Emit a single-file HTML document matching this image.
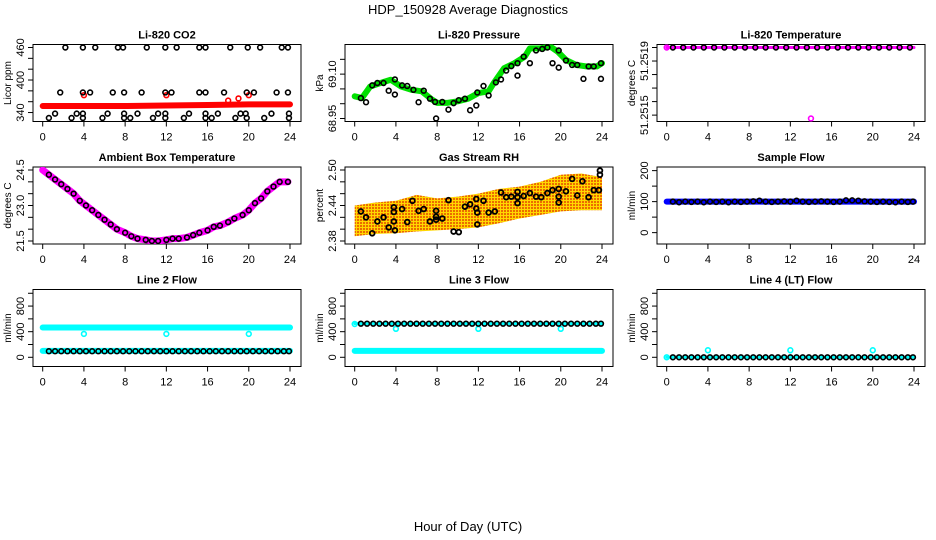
<!DOCTYPE html>
<html><head><meta charset="utf-8"><style>
html,body{margin:0;padding:0;background:#fff;}
svg{display:block;font-family:"Liberation Sans",Arial,sans-serif;}
</style></head><body>
<svg id="chart" width="936" height="540" viewBox="0 0 936 540" xmlns="http://www.w3.org/2000/svg">
<defs>
<pattern id="rhpat" width="3" height="3" patternUnits="userSpaceOnUse">
<rect width="3" height="3" fill="#ffd700"/><rect width="2" height="2" fill="#f08000"/><rect x="0.5" y="0.5" width="1" height="1" fill="#e03000"/>
</pattern>
</defs>
<text x="468" y="14" text-anchor="middle" font-size="13">HDP_150928  Average Diagnostics</text>
<text x="468" y="531" text-anchor="middle" font-size="13">Hour of Day (UTC)</text>
<g id="panels"></g>
</svg>
<script>
const hourTicks=[0,4,8,12,16,20,24];
// CO2
const co2BandX=[0,4,8,12,16,20,24];
const co2BandY=[352,352,352,353,354,355,355];
const co2RedX=[4,12,18,19,20];
const co2RedY=[372,372,362,366,372];
const co2BlkX=[2.2,3.9,5.1,7.3,7.8,10.1,11.9,13.0,15.2,15.8,18.2,19.9,21.1,23.2,23.8,1.7,3.9,4.6,6.8,7.9,9.6,11.9,12.5,15.2,15.8,17.6,19.8,20.5,22.7,23.8,1.2,3.3,3.9,6.3,7.9,9.2,11.2,11.9,14.2,15.8,17.0,19.2,19.7,22.2,23.9,0.6,2.8,3.9,5.8,7.9,8.5,10.7,11.9,13.7,15.8,16.4,18.7,19.8,21.5,23.9];
const co2BlkY=[460,460,460,460,460,460,460,460,460,460,460,460,460,460,460,377,377,377,377,377,377,377,377,377,377,377,377,377,377,377,338,338,338,338,338,338,338,338,338,338,338,338,338,338,338,330,330,330,330,330,330,330,330,330,330,330,330,330,330,330];
// Pressure
const prBandX=[0,0.7,1.5,2.5,3.5,4.5,5.5,6.5,7.5,8,9,10,11,12,13,13.5,14.5,15.5,16.5,17,18,19,19.7,20.5,21.5,22.5,23.5,24];
const prBandY=[69.025,69.019,69.058,69.070,69.081,69.058,69.047,69.042,69.014,69.003,69.003,69.008,69.017,69.036,69.042,69.070,69.120,69.137,69.159,69.187,69.187,69.193,69.176,69.148,69.131,69.126,69.126,69.137];
const prBlkX=[0.6,1.7,2.2,2.8,3.9,4.6,5.1,5.7,6.7,7.3,7.8,8.5,9.6,10.1,10.7,11.9,12.5,13.0,13.7,14.2,14.7,15.2,15.8,16.4,17.6,18.2,18.7,19.8,20.5,21.1,21.6,22.7,23.2,23.9,1.1,3.3,3.9,6.2,7.9,9.1,11.2,11.8,15.8,17.0,19.2,19.8,22.2,23.9];
const prBlkY=[69.019,69.062,69.070,69.070,69.082,69.062,69.060,69.047,69.044,69.017,69.006,69.006,69.002,69.012,69.017,69.038,69.060,69.028,69.072,69.082,69.112,69.127,69.137,69.159,69.180,69.185,69.190,69.180,69.146,69.131,69.131,69.126,69.126,69.137,69.005,69.044,69.031,69.005,68.950,68.980,68.978,68.994,69.095,69.137,69.137,69.122,69.084,69.084];
// Li-820 temperature
const ltX=[0.6,1.6,2.6,3.6,4.6,5.6,6.6,7.6,8.6,9.6,10.6,11.6,12.6,13.6,14.6,15.6,16.6,17.6,18.6,19.6,20.6,21.6,22.6,23.6];
const ltY=[51.2519,51.2519,51.2519,51.2519,51.2519,51.2519,51.2519,51.2519,51.2519,51.2519,51.2519,51.2519,51.2519,51.2519,51.2519,51.2519,51.2519,51.2519,51.2519,51.2519,51.2519,51.2519,51.2519,51.2519];
const ltMagX=[0,14];
const ltMagY=[51.2519,51.25148];
// Ambient
const ambX=[0,0.6,1.2,1.8,2.4,3,3.6,4.2,4.8,5.4,6,6.6,7.2,8,8.6,9.2,10,10.6,11.2,12,12.6,13.2,14,14.6,15.2,16,16.6,17.2,18,18.6,19.4,20,20.6,21.2,21.8,22.4,23,23.8];
const ambY=[24.5,24.3,24.1,23.9,23.7,23.5,23.2,23.0,22.8,22.6,22.4,22.2,22.0,21.85,21.7,21.6,21.55,21.5,21.5,21.55,21.6,21.6,21.65,21.75,21.85,21.95,22.1,22.15,22.3,22.45,22.6,22.8,23.1,23.3,23.6,23.8,24.0,24.0];
// RH
const rhCloudX=[0,2,4,6,8,10,12,14,16,18,20,22,24];
const rhLow=[2.388,2.392,2.393,2.396,2.398,2.400,2.403,2.410,2.418,2.424,2.430,2.432,2.432];
const rhHigh=[2.44,2.445,2.448,2.458,2.452,2.455,2.46,2.468,2.472,2.48,2.492,2.494,2.488];
const rhBlkX=[0.6,1.1,1.7,2.2,2.8,3.3,3.8,3.8,3.8,3.9,4.6,5.1,5.6,6.2,6.7,7.3,7.9,7.9,7.9,8.5,9.1,9.6,10.1,10.7,11.2,11.8,11.8,11.9,11.9,12.5,13.0,13.6,14.2,14.7,15.2,15.8,15.8,15.8,16.4,17.0,17.6,18.1,18.7,19.2,19.8,19.8,19.8,20.5,21.1,21.6,22.1,22.7,23.2,23.7,23.8,23.8];
const rhBlkY=[2.430,2.420,2.393,2.413,2.420,2.403,2.437,2.429,2.413,2.398,2.434,2.412,2.448,2.431,2.434,2.413,2.431,2.421,2.416,2.418,2.449,2.396,2.395,2.438,2.442,2.451,2.435,2.428,2.408,2.448,2.428,2.430,2.462,2.454,2.455,2.463,2.454,2.444,2.456,2.461,2.455,2.454,2.461,2.466,2.468,2.455,2.445,2.464,2.485,2.457,2.481,2.454,2.466,2.466,2.499,2.492];
// Sample flow
const sfBandX=[0,24];
const sfBandY=[100,100];
const sfBlkX=[0.6,1.2,1.8,2.4,3,3.6,4.2,4.8,5.4,6,6.6,7.2,7.8,8.4,9,9.6,10.2,10.8,11.4,12,12.6,13.2,13.8,14.4,15,15.6,16.2,16.8,17.4,18,18.6,19.2,19.8,20.4,21,21.6,22.2,22.8,23.4,23.9];
const sfBlkY=[100,98,100,99,100,98,100,99,100,98,100,99,100,101,103,100,99,100,101,100,103,100,99,100,101,100,99,100,104,104,103,101,100,99,100,99,98,100,99,100];
// Line flows
const flowX=[0.6,1.2,1.8,2.4,3,3.6,4.2,4.8,5.4,6,6.6,7.2,7.8,8.4,9,9.6,10.2,10.8,11.4,12,12.6,13.2,13.8,14.4,15,15.6,16.2,16.8,17.4,18,18.6,19.2,19.8,20.4,21,21.6,22.2,22.8,23.4,23.9];
const l2BandHi=[465,465]; const l2BandLo=[100,100];
const l2Blk=[95,95,95,95,95,95,95,95,95,95,95,95,95,95,95,95,95,95,95,95,95,95,95,95,95,95,95,95,95,95,95,95,95,95,95,95,95,95,95,95];
const outX=[4,12,20];
const l2Out=[365,365,365];
const l3BandLo=[100,100];
const l3Blk=[525,525,525,525,525,525,525,525,525,525,525,525,525,525,525,525,525,525,525,525,525,525,525,525,525,525,525,525,525,525,525,525,525,525,525,525,525,525,525,525];
const l3Out=[445,445,445];
const l4Blk=[0,0,0,0,0,0,0,0,0,0,0,0,0,0,0,0,0,0,0,0,0,0,0,0,0,0,0,0,0,0,0,0,0,0,0,0,0,0,0,0];
const l4Out=[110,110,110];

const NS='http://www.w3.org/2000/svg';
const root=document.getElementById('panels');
function mk(tag,attrs,parent){const e=document.createElementNS(NS,tag);for(const k in attrs)e.setAttribute(k,attrs[k]);(parent||root).appendChild(e);return e;}
const rowTop=[44.5,167,289.5];
function panel(c,r,title,ylab,lo,hi,ticks,labels,name){
  const L=33+312*c,R=301+312*c,T=rowTop[r],B=T+77;
  const g=mk('g',{});
  
  
  const X=h=>L+9.7+h*10.304;
  const Y=v=>(B-3)-(v-lo)/(hi-lo)*71;
  const box=mk('rect',{x:L,y:T,width:R-L,height:B-T,fill:'none',stroke:'#000','stroke-width':1},g);
  
  
  const t=mk('text',{x:(L+R)/2,y:T-6,'text-anchor':'middle','font-size':11,'font-weight':'bold'},g);
  t.textContent=title;
  
  
  const yl=mk('text',{x:0,y:0,'text-anchor':'middle','font-size':10,transform:`translate(${11+312*c},${(T+B)/2}) rotate(-90)`},g);
  yl.textContent=ylab;
  
  
  const xa=mk('g',{},g);
  
  
  mk('line',{x1:X(0),x2:X(24),y1:B,y2:B,stroke:'#000'},xa);
  hourTicks.forEach(h=>{
    mk('line',{x1:X(h),x2:X(h),y1:B,y2:B+5,stroke:'#000'},xa);
    const tl=mk('text',{x:X(h),y:B+19,'text-anchor':'middle','font-size':11},xa);
    tl.textContent=h;
    
    
  });
  const ya=mk('g',{},g);
  
  
  mk('line',{x1:L,x2:L,y1:Y(ticks[0]),y2:Y(ticks[ticks.length-1]),stroke:'#000'},ya);
  ticks.forEach((v,i)=>{
    mk('line',{x1:L-5,x2:L,y1:Y(v),y2:Y(v),stroke:'#000'},ya);
    if(labels[i]){
      const tl=mk('text',{x:0,y:0,'text-anchor':'middle','font-size':11,transform:`translate(${L-9},${Y(v)}) rotate(-90)`},ya);
      tl.textContent=labels[i];
      
      
    }
  });
  const clip='clip'+c+r;
  const cp=mk('clipPath',{id:clip},g);mk('rect',{x:L,y:T,width:R-L,height:B-T},cp);
  const d=mk('g',{'clip-path':`url(#${clip})`},g);
  return {X,Y,g:d};
}
function band(p,xs,ys,color,w,name){
  const pl=mk('polyline',{points:xs.map((x,i)=>p.X(x)+','+p.Y(ys[i])).join(' '),fill:'none',stroke:color,'stroke-width':w,'stroke-linejoin':'round','stroke-linecap':'round'},p.g);
  
  
}
function pts(p,xs,ys,color,name,sw){
  xs.forEach((x,i)=>{
    const e=mk('circle',{cx:p.X(x),cy:p.Y(ys[i]),r:2.4,fill:'none',stroke:color,'stroke-width':sw||1.6},p.g);
    
    
  });
}
let p;
p=panel(0,0,'Li-820 CO2','Licor ppm',329,460,[340,360,380,400,420,440,460],['340','','','400','','','460'],'co2');
band(p,co2BandX,co2BandY,'#ff0000',6,'co2-band');
pts(p,co2RedX,co2RedY,'#ff0000','co2-red-point');
pts(p,co2BlkX,co2BlkY,'#000','co2-point');

p=panel(1,0,'Li-820 Pressure','kPa',68.95,69.19,[68.95,69.00,69.05,69.10,69.15],['68.95','','','69.10',''],'pressure');
band(p,prBandX,prBandY,'#00e000',6,'pressure-band');
pts(p,prBlkX,prBlkY,'#000','pressure-point');

p=panel(2,0,'Li-820 Temperature','degrees C',51.25148,51.2519,[51.2515,51.25158,51.25166,51.25174,51.25182,51.2519],['51.2515','','','','51.2519',''],'li820-temp');
band(p,[0,24],[51.2519,51.2519],'#ff00ff',3,'li820-temp-band');
pts(p,ltX,ltY,'#000','li820-temp-point');
pts(p,ltMagX,ltMagY,'#ff00ff','li820-temp-magenta-point');

p=panel(0,1,'Ambient Box Temperature','degrees C',21.5,24.5,[21.5,22,22.5,23,23.5,24,24.5],['21.5','','','23.0','','','24.5'],'ambient');
band(p,ambX,ambY,'#ff00ff',7,'ambient-band');
pts(p,ambX.slice(1),ambY.slice(1),'#000','ambient-point');

p=panel(1,1,'Gas Stream RH','percent',2.38,2.50,[2.38,2.40,2.42,2.44,2.46,2.48,2.50],['2.38','','','2.44','','','2.50'],'rh');
{const poly=mk('polygon',{points:rhCloudX.map((x,i)=>p.X(x)+','+p.Y(rhHigh[i])).concat(rhCloudX.slice().reverse().map((x,i)=>p.X(x)+','+p.Y(rhLow[rhLow.length-1-i]))).join(' '),fill:'url(#rhpat)'},p.g);

}
pts(p,rhBlkX,rhBlkY,'#000','rh-point',1.8);

p=panel(2,1,'Sample Flow','ml/min',-27,202,[0,50,100,150,200],['0','','100','','200'],'sample-flow');
band(p,sfBandX,sfBandY,'#0000ff',6,'sample-flow-band');
pts(p,sfBlkX,sfBlkY,'#000','sample-flow-point');

const flowTicks=[0,200,400,600,800,1000],flowLabels=['0','','400','','800',''];
p=panel(0,2,'Line 2 Flow','ml/min',-97,1012,flowTicks,flowLabels,'line2');
band(p,[0,24],l2BandHi,'#00ffff',6,'line2-high-band');
band(p,[0,24],l2BandLo,'#00ffff',6,'line2-low-band');
pts(p,outX,l2Out,'#00ffff','line2-outlier');
pts(p,flowX,l2Blk,'#000','line2-point');

p=panel(1,2,'Line 3 Flow','ml/min',-97,1012,flowTicks,flowLabels,'line3');
band(p,[0,24],l3BandLo,'#00ffff',6,'line3-low-band');
band(p,[0,24],[525,525],'#00ffff',3,'line3-high-band');
pts(p,[0],[520],'#00ffff','line3-start');
pts(p,outX,l3Out,'#00ffff','line3-outlier');
pts(p,flowX,l3Blk,'#000','line3-point');

p=panel(2,2,'Line 4 (LT) Flow','ml/min',-97,1012,flowTicks,flowLabels,'line4');
band(p,[0,24],[0,0],'#00ffff',3,'line4-band');
pts(p,[0],[0],'#00ffff','line4-start');
pts(p,outX,l4Out,'#00ffff','line4-outlier');
pts(p,flowX,l4Blk,'#000','line4-point');
</script>
</body></html>
